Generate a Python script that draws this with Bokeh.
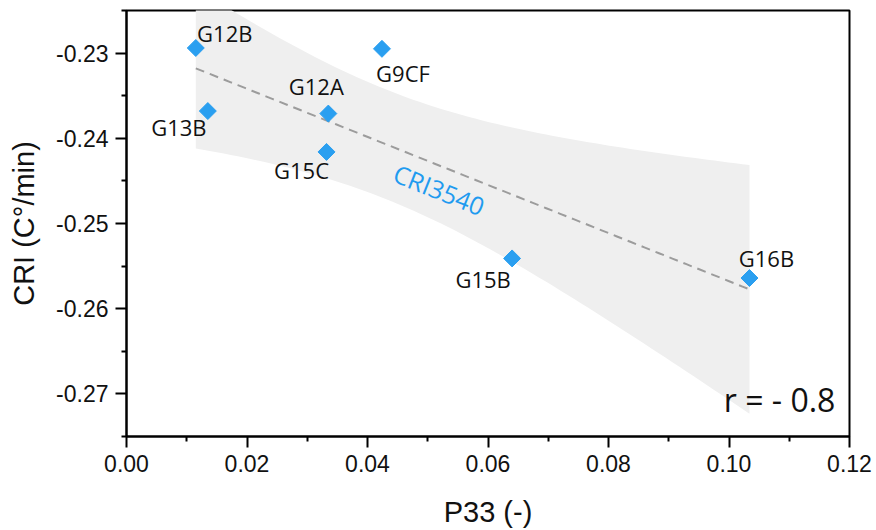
import numpy as np
from bokeh.plotting import figure
from bokeh.models import (ColumnDataSource, FixedTicker, NumeralTickFormatter,
                          LabelSet, Label)
from bokeh.core.properties import value
from bokeh.embed import file_html
from bokeh.resources import INLINE

# ---- data ----
names = ["G12B", "G13B", "G12A", "G15C", "G9CF", "G15B", "G16B"]
p33 = [0.0115, 0.0135, 0.0335, 0.0332, 0.0424, 0.0640, 0.1034]
cri = [-0.2294, -0.2368, -0.2371, -0.2416, -0.2295, -0.2541, -0.2564]

x_ticks = [0.00, 0.02, 0.04, 0.06, 0.08, 0.10, 0.12]
x_minor = [0.01, 0.03, 0.05, 0.07, 0.09, 0.11]
y_ticks = [-0.27, -0.26, -0.25, -0.24, -0.23]
y_minor = [-0.275, -0.265, -0.255, -0.245, -0.235, -0.225]

series_name = "CRI3540"
r_text = "r = - 0.8"

# label offsets (style, screen px)
lab_dx = [29, -29, -12, -25, 21, -29, 17]
lab_dy = [15, -16, 28, -18, -24, -21, 20]

# ---- linear fit and 95% confidence band ----
xa = np.array(p33)
ya = np.array(cri)
n = len(xa)
slope, intercept = np.polyfit(xa, ya, 1)
resid = ya - (slope * xa + intercept)
s = np.sqrt(np.sum(resid ** 2) / (n - 2))
t_crit = 2.5706  # t(0.975, df=5)
xm = xa.mean()
sxx = np.sum((xa - xm) ** 2)
xg = np.linspace(xa.min(), xa.max(), 80)
yg = slope * xg + intercept
hw = t_crit * s * np.sqrt(1.0 / n + (xg - xm) ** 2 / sxx)

p = figure(width=876, height=530, x_range=(0.0, 0.12), y_range=(-0.275, -0.225),
           output_backend="svg", toolbar_location=None,
           min_border_left=126, min_border_right=27, min_border_top=10,
           min_border_bottom=92)
p.grid.visible = False
p.outline_line_color = "black"
p.outline_line_width = 2
p.background_fill_color = "white"
p.border_fill_color = "white"

p.varea(x=xg, y1=yg - hw, y2=yg + hw, fill_color="#efefef")
p.line(x=xg, y=yg, line_color="#9c9c9c", line_width=2, line_dash="9 6")

src = ColumnDataSource(dict(x=p33, y=cri, name=names, dx=lab_dx, dy=lab_dy))
p.scatter("x", "y", source=src, marker="square", size=12, angle=np.pi / 4,
          fill_color="#2a9ff0", line_color="#2a9ff0")

labels = LabelSet(x="x", y="y", text="name", source=src, x_offset="dx", y_offset="dy",
                  text_align="center", text_baseline="middle",
                  text_font=value("Open Sans"), text_font_size="22px",
                  text_color="#111111")
p.add_layout(labels)

# series name along the fit line
lx = 0.0519
ly = slope * lx + intercept
p.add_layout(Label(x=lx, y=ly, text=series_name, x_offset=0, y_offset=-24,
                   angle=-0.38, text_align="center", text_baseline="middle",
                   text_font="Open Sans", text_font_size="25px", text_color="#1f9bef"))

p.add_layout(Label(x=0.1084, y=-0.2707, text=r_text, text_align="center",
                   text_baseline="middle", text_font="Open Sans",
                   text_font_size="32px", text_color="#111111"))

p.xaxis.ticker = FixedTicker(ticks=x_ticks, minor_ticks=x_minor)
p.yaxis.ticker = FixedTicker(ticks=y_ticks, minor_ticks=y_minor)
p.xaxis.formatter = NumeralTickFormatter(format="0.00")
p.yaxis.formatter = NumeralTickFormatter(format="0.00")
p.xaxis.axis_label = "P33 (-)"
p.yaxis.axis_label = "CRI (C°/min)"

for ax in (p.xaxis[0], p.yaxis[0]):
    ax.axis_line_width = 2
    ax.axis_line_color = "black"
    ax.major_tick_line_width = 2
    ax.minor_tick_line_width = 2
    ax.major_tick_in = 0
    ax.major_tick_out = 11
    ax.minor_tick_in = 0
    ax.minor_tick_out = 5
    ax.major_label_text_font = "Liberation Sans"
    ax.major_label_text_font_size = "23px"
    ax.major_label_text_color = "#111111"
    ax.axis_label_text_font = "Liberation Sans"
    ax.axis_label_text_font_size = "29px"
    ax.axis_label_text_font_style = "normal"
    ax.axis_label_text_color = "#111111"
    ax.major_label_standoff = 7

p.xaxis.axis_label_standoff = 21
p.yaxis.axis_label_standoff = 13

open("out.html", "w").write(file_html(p, INLINE))
